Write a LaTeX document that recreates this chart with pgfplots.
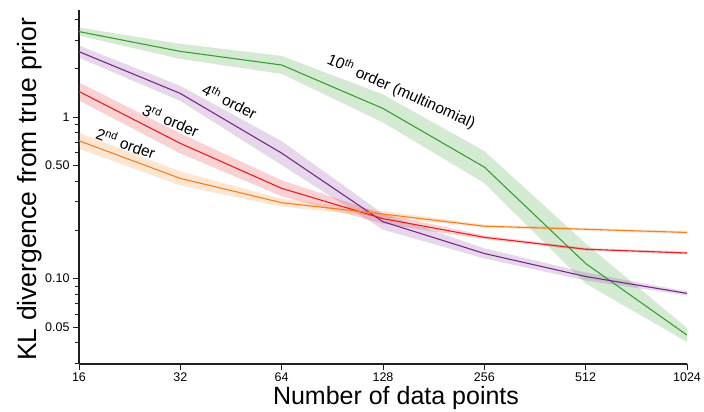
\documentclass[border=0pt]{standalone}
\usepackage{pgfplots}
\pgfplotsset{compat=1.18}
\usepgfplotslibrary{fillbetween}
\usepackage{pgfplotstable}
\usepackage{fontspec}
\setmainfont{Liberation Sans}

\definecolor{cGreen}{RGB}{58,158,52}
\definecolor{cPurple}{RGB}{118,40,138}
\definecolor{cRed}{RGB}{232,30,34}
\definecolor{cOrange}{RGB}{245,128,32}
\definecolor{axisgray}{RGB}{30,30,30}

% KL divergence (mean, lower and upper edge of the shaded band)
\pgfplotstableread{
x     y       lo      hi
16    3.38    3.19    3.58
32    2.55    2.29    2.84
64    2.10    1.85    2.39
128   1.13    0.925   1.38
256   0.49    0.390   0.616
512   0.124   0.0932  0.165
1024  0.0447  0.0405  0.0494
}\tenth

\pgfplotstableread{
x     y       lo      hi
16    2.54    2.33    2.77
32    1.40    1.258   1.56
64    0.598   0.504   0.710
128   0.225   0.2008  0.252
256   0.143   0.1332  0.154
512   0.103   0.0973  0.109
1024  0.081   0.0787  0.0833
}\fourth

\pgfplotstableread{
x     y       lo      hi
16    1.44    1.266   1.637
32    0.687   0.596   0.792
64    0.362   0.323   0.406
128   0.235   0.219   0.252
256   0.180   0.175   0.185
512   0.152   0.149   0.155
1024  0.144   0.141   0.147
}\third

\pgfplotstableread{
x     y       lo      hi
16    0.713   0.636   0.799
32    0.417   0.377   0.461
64    0.295   0.279   0.312
128   0.251   0.2405  0.262
256   0.211   0.2065  0.216
512   0.202   0.198   0.206
1024  0.193   0.189   0.197
}\second

\begin{document}
\begin{tikzpicture}
\begin{axis}[
  scale only axis, width=608pt, height=354pt,
  xmode=log, ymode=log, log basis x=2,
  xmin=16, xmax=1024, ymin=0.0296, ymax=4.6,
  axis lines=left,
  axis line style={-, line width=1.3pt, axisgray},
  xtick={16,32,64,128,256,512,1024},
  xticklabels={16,32,64,128,256,512,1024},
  minor xtick={},
  ytick={0.05,0.1,0.5,1},
  yticklabels={0.05,0.10,0.50,1},
  minor ytick={0.03,0.04,0.06,0.07,0.08,0.09,0.2,0.3,0.4,0.6,0.7,0.8,0.9,2,3,4},
  tick align=outside,
  major tick length=6pt, minor tick length=4pt,
  tick style={axisgray, line width=0.8pt},
  ticklabel style={font=\fontsize{12.5}{12.5}\selectfont},
  xticklabel style={yshift=1pt},
  /pgf/number format/assume math mode=true,
  xlabel={Number of data points},
  ylabel={KL divergence from true prior},
  xlabel style={font=\fontsize{25}{25}\selectfont, at={(axis description cs:0.5,0)}, anchor=center, yshift=-34.5pt, xshift=13pt},
  ylabel style={font=\fontsize{26.5}{26.5}\selectfont, at={(axis description cs:-0.0806,0.494)}, anchor=center},
  no markers,
  every axis plot/.append style={line join=round},
]
% shaded bands
\addplot[name path=gH, draw=none, forget plot] table[x=x,y=hi]{\tenth};
\addplot[name path=gL, draw=none, forget plot] table[x=x,y=lo]{\tenth};
\addplot[fill=cGreen, fill opacity=0.22, draw=none, forget plot] fill between[of=gH and gL];

\addplot[name path=pH, draw=none, forget plot] table[x=x,y=hi]{\fourth};
\addplot[name path=pL, draw=none, forget plot] table[x=x,y=lo]{\fourth};
\addplot[fill=cPurple, fill opacity=0.18, draw=none, forget plot] fill between[of=pH and pL];

\addplot[name path=rH, draw=none, forget plot] table[x=x,y=hi]{\third};
\addplot[name path=rL, draw=none, forget plot] table[x=x,y=lo]{\third};
\addplot[fill=cRed, fill opacity=0.2, draw=none, forget plot] fill between[of=rH and rL];

\addplot[name path=oH, draw=none, forget plot] table[x=x,y=hi]{\second};
\addplot[name path=oL, draw=none, forget plot] table[x=x,y=lo]{\second};
\addplot[fill=cOrange, fill opacity=0.2, draw=none, forget plot] fill between[of=oH and oL];

% mean curves
\addplot[cGreen, line width=1.1pt] table[x=x,y=y]{\tenth};
\addplot[cPurple, line width=1.1pt] table[x=x,y=y]{\fourth};
\addplot[cRed, line width=1.1pt] table[x=x,y=y]{\third};
\addplot[cOrange, line width=1.1pt] table[x=x,y=y]{\second};

% curve labels
\node[rotate=-20, font=\fontsize{15.5}{15.5}\selectfont] at (axis cs:22.07,0.690) {2\textsuperscript{nd} order};
\node[rotate=-23, font=\fontsize{15.5}{15.5}\selectfont] at (axis cs:30.0,0.958) {3\textsuperscript{rd} order};
\node[rotate=-27, font=\fontsize{15.5}{15.5}\selectfont] at (axis cs:44.9,1.256) {4\textsuperscript{th} order};
\node[rotate=-24, font=\fontsize{15.5}{15.5}\selectfont] at (axis cs:145.2,1.439) {10\textsuperscript{th} order (multinomial)};
\end{axis}
\pgfresetboundingbox
\path[use as bounding box] ([xshift=-79pt,yshift=-48pt]current axis.south west) rectangle ([xshift=17pt,yshift=10pt]current axis.north east);
\end{tikzpicture}
\end{document}
